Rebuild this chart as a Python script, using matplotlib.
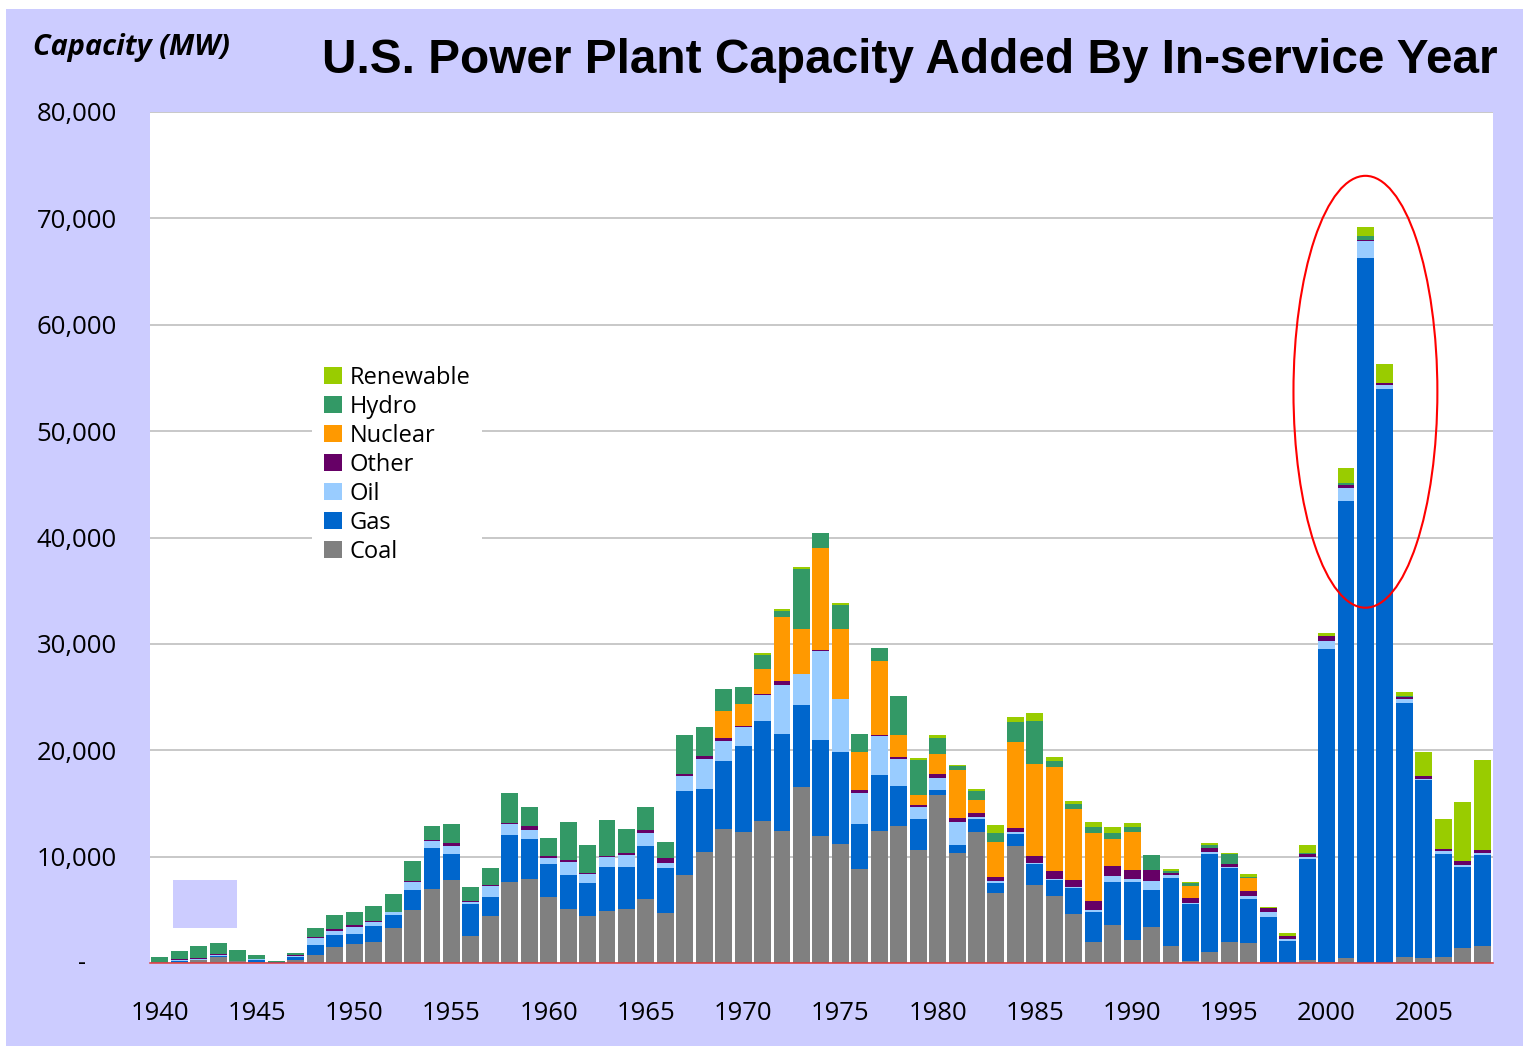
import matplotlib.pyplot as plt
from matplotlib.patches import Ellipse, Rectangle
import numpy as np

# capacidade adicionada por ano (MW)
years = list(range(1940, 2009))

coal = [100, 100, 310, 560, 190, 60, 0, 310, 750, 1500,
        1790, 1970, 3290, 4980, 6960, 7800, 2540, 4420, 7610, 7900,
        6200, 5080, 4420, 4890, 5080, 6020, 4700, 8270, 10430, 12600,
        12310, 13350, 12410, 16540, 11940, 11190, 8840, 12410, 12880, 10620,
        15790, 10340, 12310, 6580, 11000, 7330, 6300, 4610, 1970, 3570,
        2160, 3380, 1600, 190, 1030, 1970, 1880, 90, 0, 280,
        140, 450, 0, 0, 540, 450, 540, 1390, 1570]
gas = [0, 100, 0, 60, 0, 250, 100, 220, 940, 1130,
       940, 1500, 1220, 1880, 3850, 2440, 3010, 1790, 4420, 3760,
       3100, 3200, 3100, 4140, 3950, 4980, 4230, 7900, 5920, 6390,
       8080, 9400, 9120, 7710, 9020, 8650, 4230, 5260, 3760, 2910,
       470, 750, 1220, 940, 1130, 1970, 1500, 2440, 2820, 4040,
       5450, 3480, 6390, 5360, 9210, 6960, 4140, 4230, 2070, 9490,
       29410, 43010, 66270, 53970, 23930, 16750, 9700, 7680, 8620]
oil = [0, 100, 100, 90, 0, 90, 0, 130, 660, 380,
       660, 380, 280, 750, 660, 750, 190, 1030, 1030, 850,
       560, 1220, 850, 940, 1130, 1220, 470, 1410, 2820, 1880,
       1760, 2440, 4610, 2910, 8370, 4980, 2910, 3670, 2540, 1130,
       1130, 2160, 190, 190, 190, 90, 90, 90, 190, 560,
       280, 850, 280, 90, 190, 90, 280, 470, 190, 190,
       760, 1210, 1570, 360, 360, 140, 270, 140, 180]
other = [0, 100, 100, 90, 0, 0, 0, 90, 90, 190,
         190, 90, 0, 90, 90, 280, 90, 90, 90, 380,
         190, 190, 90, 90, 190, 280, 470, 190, 280, 280,
         130, 90, 380, 0, 90, 0, 280, 90, 190, 190,
         380, 380, 380, 380, 380, 660, 750, 660, 850, 940,
         850, 1030, 190, 470, 380, 280, 470, 380, 280, 280,
         450, 270, 140, 220, 140, 220, 180, 360, 230]
nuclear = [0, 0, 0, 0, 0, 0, 0, 0, 0, 0,
           0, 0, 0, 0, 0, 0, 0, 0, 0, 0,
           0, 0, 0, 0, 0, 0, 0, 0, 0, 2540,
           2070, 2350, 6020, 4230, 9590, 6580, 3570, 6960, 2070, 940,
           1880, 4510, 1220, 3290, 8080, 8650, 9780, 6670, 6390, 2540,
           3570, 0, 0, 1130, 0, 0, 1220, 0, 0, 0,
           0, 0, 0, 0, 0, 0, 0, 0, 0]
hydro = [460, 750, 1100, 1080, 1030, 350, 90, 190, 850, 1310,
         1220, 1410, 1690, 1880, 1320, 1790, 1320, 1600, 2820, 1790,
         1690, 3570, 2630, 3380, 2260, 2160, 1500, 3670, 2730, 2070,
         1600, 1320, 560, 5640, 1410, 2260, 1690, 1220, 3670, 3290,
         1500, 380, 850, 850, 1880, 4040, 560, 470, 560, 560,
         470, 1410, 190, 280, 280, 940, 90, 0, 0, 90,
         0, 180, 360, 0, 90, 0, 0, 0, 0]
renewable = [0, 0, 0, 0, 0, 0, 0, 0, 0, 0,
             0, 0, 0, 0, 0, 0, 0, 0, 0, 0,
             0, 0, 0, 0, 0, 0, 0, 0, 0, 0,
             0, 190, 190, 190, 0, 190, 0, 0, 0, 190,
             280, 90, 190, 750, 470, 750, 380, 280, 470, 560,
             380, 0, 190, 90, 190, 90, 280, 90, 280, 750,
             230, 1440, 810, 1750, 450, 2250, 2830, 5520, 8440]

series = ['Coal', 'Gas', 'Oil', 'Other', 'Nuclear', 'Hydro', 'Renewable']
cores = ['#808080', '#0066CC', '#99CCFF', '#660066', '#FF9900', '#339966', '#99CC00']
valores = [coal, gas, oil, other, nuclear, hydro, renewable]

y_ticks = [0, 10000, 20000, 30000, 40000, 50000, 60000, 70000, 80000]
y_labels = ['', '10,000', '20,000', '30,000', '40,000', '50,000', '60,000', '70,000', '80,000']
x_ticks = [1940, 1945, 1950, 1955, 1960, 1965, 1970, 1975, 1980, 1985, 1990, 1995, 2000, 2005]

lavanda = '#CCCCFF'
plt.rcParams['font.family'] = ['Open Sans', 'DejaVu Sans']

fig = plt.figure(figsize=(15.23, 10.46), dpi=100)
fig.patch.set_facecolor('white')
fig.patches.append(Rectangle((6 / 1523, 0), 1, 1 - 9 / 1046, transform=fig.transFigure,
                             facecolor=lavanda, edgecolor='none', zorder=-10))

ax = fig.add_axes([150 / 1523, 1 - 963 / 1046, 1343 / 1523, 851 / 1046])
ax.set_facecolor('white')

# barras empilhadas
base = np.zeros(len(years))
for nome, cor, vals in zip(series, cores, valores):
    ax.bar(years, vals, bottom=base, width=0.87, color=cor, linewidth=0, label=nome, zorder=2)
    base = base + np.array(vals)

ax.set_xlim(1939.5, 2008.56)
ax.set_ylim(0, 80000)
ax.set_yticks(y_ticks)
ax.set_yticklabels(y_labels)
ax.set_xticks(x_ticks)
ax.set_xticklabels([str(x) for x in x_ticks])
ax.tick_params(axis='y', length=0, pad=24, labelsize=18.5)
ax.tick_params(axis='x', length=0, pad=27, labelsize=18.5)
ax.text(-0.0506, 0, '-', transform=ax.get_yaxis_transform(), ha='center', va='center', fontsize=18)

ax.grid(axis='y', color='#BFBFBF', linewidth=1.2, zorder=0)
ax.set_axisbelow(True)
for s in ['top', 'right', 'left']:
    ax.spines[s].set_visible(False)
ax.spines['bottom'].set_color('#E03C3C')
ax.spines['bottom'].set_linewidth(1.1)
ax.spines['bottom'].set_zorder(4)

# caixinha lavanda perdida no canto e o circulo vermelho
ax.add_patch(Rectangle((1940.69, 3290), 3.3, 4510, facecolor=lavanda, edgecolor='none', zorder=3))
ax.add_patch(Ellipse((2002, 53700), 7.4, 40600, fill=False, edgecolor='red', linewidth=1.5, zorder=5))

handles, labels = ax.get_legend_handles_labels()
leg = ax.legend(handles[::-1], labels[::-1], loc='upper left',
                bbox_to_anchor=(312 / 1523, 1 - 354 / 1046), bbox_transform=fig.transFigure,
                fontsize=17, frameon=True, fancybox=False, borderpad=0.5, borderaxespad=0,
                handlelength=0.77, handleheight=0.77, handletextpad=0.33, labelspacing=0.21)
leg.get_frame().set_facecolor('white')
leg.get_frame().set_edgecolor('none')
leg.get_frame().set_alpha(1)

fig.text(33 / 1523, 1 - 47 / 1046, 'Capacity (MW)', fontsize=20.8, fontweight='bold',
         fontstyle='italic', ha='left', va='center')
fig.text(322 / 1523, 1 - 73 / 1046, 'U.S. Power Plant Capacity Added By In-service Year',
         fontsize=34.4, fontweight='bold', family='Liberation Sans', ha='left', va='baseline')

plt.savefig('out.png', dpi=100)
